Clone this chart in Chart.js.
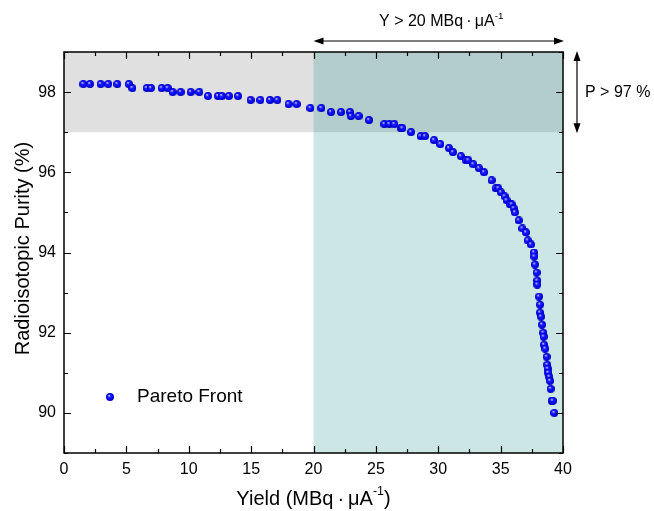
<!DOCTYPE html>
<html>
<head>
<meta charset="utf-8">
<script src="https://cdn.jsdelivr.net/npm/chart.js@4.4.1/dist/chart.umd.min.js"></script>
<style>
  html, body { margin: 0; padding: 0; background: #fff; }
  #wrap { width: 654px; height: 511px; }
</style>
</head>
<body>
<div id="wrap"><canvas id="pareto-chart" width="654" height="511"></canvas></div>
<script>
// Pareto front values
const yieldVals = [1.55, 2.08, 2.94, 3.55, 4.27, 5.2, 5.48, 6.63, 6.97, 7.83, 8.31, 8.71, 9.35, 10.16, 10.85,
  11.54, 12.34, 12.66, 13.22, 13.95, 14.96, 15.74, 16.51, 17.1, 18.0, 18.65, 19.75, 20.63, 21.4, 22.2, 22.93,
  23.0, 23.62, 24.45, 25.68, 26.08, 26.48, 26.99, 27.12, 27.82, 28.59, 28.94, 29.66, 30.17, 30.86, 31.18,
  31.82, 32.2, 32.41, 32.81, 33.27, 33.67, 34.28, 34.6, 34.82, 35.03, 35.32, 35.48, 35.75, 35.89, 36.05,
  36.15, 36.45, 36.74, 37.03, 37.17, 37.43, 37.68, 37.7, 37.76, 37.89, 37.94, 37.94, 38.08, 38.16, 38.16,
  38.24, 38.32, 38.42, 38.45, 38.48, 38.58, 38.69, 38.74, 38.77, 38.82, 38.9, 38.96, 39.01, 39.09, 39.17, 39.3];
const purityVals = [98.2, 98.2, 98.2, 98.2, 98.2, 98.2, 98.1, 98.1, 98.1, 98.1, 98.1, 98.0, 98.0, 98.0, 98.0,
  97.9, 97.9, 97.9, 97.9, 97.9, 97.8, 97.8, 97.8, 97.8, 97.7, 97.7, 97.6, 97.6, 97.5, 97.5, 97.5,
  97.4, 97.4, 97.3, 97.2, 97.2, 97.2, 97.1, 97.1, 97.0, 96.9, 96.9, 96.8, 96.7, 96.6, 96.5,
  96.4, 96.3, 96.3, 96.2, 96.1, 96.0, 95.8, 95.6, 95.6, 95.5, 95.4, 95.3, 95.2, 95.2, 95.1,
  95.0, 94.8, 94.6, 94.5, 94.3, 94.2, 94.0, 93.9, 93.7, 93.5, 93.3, 93.2, 92.9, 92.7, 92.5,
  92.4, 92.2, 92.0, 91.9, 91.7, 91.6, 91.4, 91.2, 91.1, 91.0, 90.9, 90.8, 90.6, 90.3, 90.3, 90.0];

const xTicks = [0, 5, 10, 15, 20, 25, 30, 35, 40];
const yTicks = [90, 92, 94, 96, 98];
const yieldLimit = 20;   // Y > 20 MBq/uA
const purityLimit = 97;  // P > 97 %

const FONT = '"Liberation Sans", Arial, sans-serif';

// little shaded ball used as the marker
let makeSphere = (d) => {
  let c = document.createElement('canvas');
  c.width = d; c.height = d;
  let g = c.getContext('2d');
  let grad = g.createRadialGradient(d * 0.38, d * 0.33, 0.3, d / 2, d / 2, d / 2);
  grad.addColorStop(0, '#d0d0ff');
  grad.addColorStop(0.3, '#1e1eff');
  grad.addColorStop(0.8, '#0000e8');
  grad.addColorStop(1, '#0000a8');
  g.fillStyle = grad;
  g.beginPath();
  g.arc(d / 2, d / 2, d / 2, 0, Math.PI * 2);
  g.fill();
  return c;
}
const sphere = makeSphere(8);

// text with a raised "-1"
let drawSupText = (g, parts, cx, cy, size, align) => {
  let widths = parts.map(p => {
    g.font = (p.sup ? size * 0.62 : size) + 'px ' + FONT;
    return g.measureText(p.t).width;
  });
  let total = widths.reduce((a, b) => a + b, 0);
  let x = align === 'left' ? cx : cx - total / 2;
  g.textAlign = 'left';
  g.textBaseline = 'middle';
  parts.forEach((p, i) => {
    g.font = (p.sup ? size * 0.62 : size) + 'px ' + FONT;
    g.fillText(p.t, x, p.sup ? cy - size * 0.38 : cy);
    x += widths[i];
  });
}

let arrowHead = (g, x, y, dx, dy) => {
  // dx,dy = unit direction the arrow points to
  let len = 10, half = 3.5;
  g.beginPath();
  g.moveTo(x, y);
  g.lineTo(x - dx * len - dy * half, y - dy * len + dx * half);
  g.lineTo(x - dx * len + dy * half, y - dy * len - dx * half);
  g.closePath();
  g.fill();
}

const regions = {
  id: 'regions',
  beforeDatasetsDraw(chart) {
    let { ctx: g, chartArea: a, scales: { x, y } } = chart;
    let yTop = y.getPixelForValue(purityLimit);
    let xL = x.getPixelForValue(yieldLimit);
    g.save();
    g.fillStyle = '#e0e0e0';
    g.fillRect(a.left, a.top, a.right - a.left, yTop - a.top);
    g.fillStyle = 'rgba(0, 128, 128, 0.2)';
    g.fillRect(xL, a.top, a.right - xL, a.bottom - a.top);
    g.restore();
  }
}

const frame = {
  id: 'frame',
  afterDraw(chart) {
    let { ctx: g, chartArea: a, scales: { x, y } } = chart;
    g.save();
    g.strokeStyle = '#000';
    g.lineWidth = 1.5;
    g.strokeRect(a.left, a.top, a.right - a.left, a.bottom - a.top);

    // inward ticks, major + minor, on all sides
    g.lineWidth = 1.2;
    g.beginPath();
    for (let v = 0; v <= 40; v += 2.5) {
      let px = Math.round(x.getPixelForValue(v)) + 0.5;
      let len = v % 5 === 0 ? 7 : 4;
      g.moveTo(px, a.bottom); g.lineTo(px, a.bottom - len);
      g.moveTo(px, a.top); g.lineTo(px, a.top + len);
    }
    for (let v = 89; v <= 99; v += 1) {
      let py = Math.round(y.getPixelForValue(v)) + 0.5;
      let len = v % 2 === 0 ? 7 : 4;
      g.moveTo(a.left, py); g.lineTo(a.left + len, py);
      g.moveTo(a.right, py); g.lineTo(a.right - len, py);
    }
    g.stroke();

    g.fillStyle = '#000';
    // axis titles
    drawSupText(g, [{ t: 'Yield (MBq\u2009\u00b7\u2009\u03bcA' }, { t: '-1', sup: true }, { t: ')' }],
      (a.left + a.right) / 2, 499, 20);
    g.save();
    g.translate(23, (a.top + a.bottom) / 2 - 4);
    g.rotate(-Math.PI / 2);
    g.font = '20px ' + FONT;
    g.textAlign = 'center';
    g.textBaseline = 'middle';
    g.fillText('Radioisotopic Purity (%)', 0, 0);
    g.restore();

    // yield window arrow
    let xL = x.getPixelForValue(yieldLimit);
    g.lineWidth = 1.2;
    g.beginPath();
    g.moveTo(xL + 4, 41); g.lineTo(a.right - 4, 41);
    g.stroke();
    arrowHead(g, xL, 41, -1, 0);
    arrowHead(g, a.right + 1, 41, 1, 0);
    drawSupText(g, [{ t: 'Y > 20 MBq\u2009\u00b7\u2009\u03bcA' }, { t: '-1', sup: true }],
      (xL + a.right) / 2 + 3, 22, 16);

    // purity window arrow
    let yP = y.getPixelForValue(purityLimit);
    let ax = a.right + 14;
    g.beginPath();
    g.moveTo(ax, a.top + 4); g.lineTo(ax, yP - 4);
    g.stroke();
    arrowHead(g, ax, a.top - 1, 0, -1);
    arrowHead(g, ax, yP + 1, 0, 1);
    drawSupText(g, [{ t: 'P > 97 %' }], a.right + 22, y.getPixelForValue(98), 16, 'left');

    // legend
    g.drawImage(sphere, a.left + 42, 393, 8, 8);
    g.font = '19px ' + FONT;
    g.textAlign = 'left';
    g.textBaseline = 'middle';
    g.fillText('Pareto Front', a.left + 73, 397);
    g.restore();
  }
}

var ctx1 = document.getElementById('pareto-chart').getContext('2d');
var myChart1 = new Chart(ctx1, {
  type: 'scatter',
  data: {
    datasets: [{
      label: 'Pareto Front',
      data: yieldVals.map((v, i) => ({ x: v, y: purityVals[i] })),
      pointStyle: sphere,
      pointRadius: 4,
      pointHoverRadius: 4
    }]
  },
  options: {
    responsive: false,
    animation: false,
    layout: { padding: { top: 52, right: 91, left: 0, bottom: 0 } },
    plugins: {
      legend: { display: false },
      tooltip: { enabled: false }
    },
    scales: {
      x: {
        type: 'linear',
        min: 0,
        max: 40,
        grid: { display: false, drawTicks: false },
        border: { display: false },
        afterBuildTicks: s => { s.ticks = xTicks.map(v => ({ value: v })) },
        afterFit: s => { s.height = 58 },
        ticks: { padding: 7, color: '#000', font: { family: FONT, size: 16 }, maxRotation: 0 }
      },
      y: {
        min: 89,
        max: 99,
        grid: { display: false, drawTicks: false },
        border: { display: false },
        afterBuildTicks: s => { s.ticks = yTicks.map(v => ({ value: v })) },
        afterFit: s => { s.width = 64 },
        ticks: { padding: 8, color: '#000', font: { family: FONT, size: 16 } }
      }
    }
  },
  plugins: [regions, frame]
});
</script>
</body>
</html>
